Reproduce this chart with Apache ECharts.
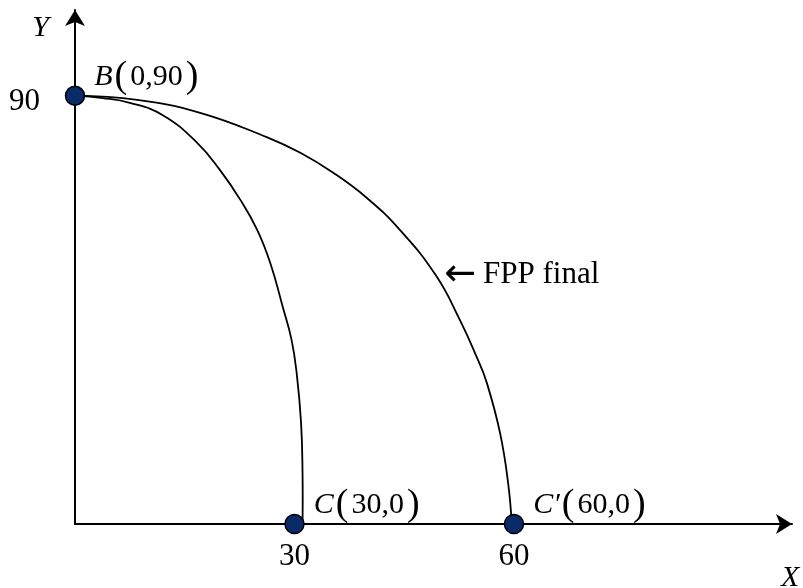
<!DOCTYPE html>
<html>
<head>
<meta charset="utf-8">
<script src="https://cdn.jsdelivr.net/npm/echarts@6/dist/echarts.min.js"></script>
<style>
  html, body { margin: 0; padding: 0; background: #fff; }
  #chart { width: 803px; height: 588px; }
</style>
</head>
<body>
<div id="chart"></div>
<script>
// values
var xTicks = [30, 60]
var yTicks = [90]
var pointNames = ['B', 'C', 'C\u2032']
var pointX = [0, 30, 60]
var pointY = [90, 0, 0]
// initial frontier, B -> C
var smallCurve = [[0, 90], [3.8, 89.5], [7.5, 88.5], [12.0, 85.9], [16.7, 80.1], [19.8, 74.4],
  [22.6, 68.1], [24.9, 61.8], [26.7, 54.8], [28.4, 45.6], [29.6, 38.7], [30.3, 31.7],
  [30.9, 21.2], [31.1, 10.7], [31.1, 0]]
// final frontier, B -> C'
var finalCurve = [[0, 90], [8.5, 89.1], [17.1, 86.4], [26.2, 81.3], [30.8, 78.0], [35.3, 73.8],
  [39.9, 68.5], [44.4, 61.8], [49.3, 52.3], [52.6, 42.9], [54.9, 35.1], [56.3, 29.6],
  [58.1, 19.1], [59.2, 8.6], [59.7, 0]]
var finalLabel = 'FPP final'
var finalLabelIdx = 8

var serif = 'Liberation Serif'
var chart = echarts.init(document.getElementById('chart'))

var pointData = pointX.map(function (x, i) {
  return {name: pointNames[i], value: [x, pointY[i]]}
})

// one smooth polyline per curve, points go through the axes with api.coord
function curveItem(curve) {
  return function (params, api) {
    if (params.dataIndex !== 0) return null
    var pts = curve.map(function (p) { return api.coord(p) })
    return {
      type: 'polyline',
      silent: true,
      shape: {points: pts, smooth: 0.45},
      style: {stroke: '#000', lineWidth: 1.8, fill: null}
    }
  }
}

var option = {
  animation: false,
  backgroundColor: '#fff',
  grid: {left: 75, right: 11, top: 10, bottom: 64, outerBoundsMode: 'none', containLabel: false},
  xAxis: {
    type: 'value',
    min: 0,
    max: 98,
    interval: 30,
    name: 'X',
    nameLocation: 'end',
    nameGap: -11,
    nameTextStyle: {
      fontFamily: serif, fontStyle: 'italic', fontSize: 30, color: '#000',
      verticalAlign: 'top', padding: [39, 0, 0, 0]
    },
    axisLine: {
      lineStyle: {color: '#000', width: 2},
      symbol: ['none', 'arrow'],
      symbolSize: [15, 16]
    },
    axisTick: {show: false},
    splitLine: {show: false},
    axisLabel: {
      margin: 17,
      fontFamily: serif,
      fontSize: 31,
      color: '#000',
      showMaxLabel: false,
      formatter: function (v) { return xTicks.indexOf(v) >= 0 ? String(v) : '' }
    }
  },
  yAxis: {
    type: 'value',
    min: 0,
    max: 108,
    interval: 90,
    name: 'Y',
    nameLocation: 'end',
    nameGap: -18,
    nameTextStyle: {
      fontFamily: serif, fontStyle: 'italic', fontSize: 30, color: '#000',
      align: 'right', verticalAlign: 'middle', padding: [0, 26, 0, 0]
    },
    axisLine: {
      lineStyle: {color: '#000', width: 2},
      symbol: ['none', 'arrow'],
      symbolSize: [15, 16]
    },
    axisTick: {show: false},
    splitLine: {show: false},
    axisLabel: {
      margin: 35,
      verticalAlign: 'top',
      lineHeight: 12,
      fontFamily: serif,
      fontSize: 31,
      color: '#000',
      showMaxLabel: false,
      formatter: function (v) { return yTicks.indexOf(v) >= 0 ? String(v) : '' }
    }
  },
  series: [
    {
      name: 'initial',
      type: 'custom',
      data: smallCurve,
      renderItem: curveItem(smallCurve),
      z: 2
    },
    {
      name: 'final',
      type: 'custom',
      data: finalCurve,
      renderItem: curveItem(finalCurve),
      markPoint: {
        symbol: 'circle',
        symbolSize: 1,
        itemStyle: {color: 'rgba(0,0,0,0)'},
        data: [{
          coord: finalCurve[finalLabelIdx],
          label: {
            show: true,
            position: 'right',
            distance: 8,
            formatter: '{a|\u2190}{t|' + finalLabel + '}',
            rich: {
              a: {fontFamily: 'DejaVu Sans', fontSize: 38, color: '#000', verticalAlign: 'middle', padding: [0, 7, 0, 0]},
              t: {fontFamily: serif, fontSize: 31, color: '#000', verticalAlign: 'middle'}
            }
          }
        }]
      },
      z: 2
    },
    {
      name: 'points',
      type: 'scatter',
      data: pointData,
      symbolSize: 19,
      itemStyle: {color: '#0b2a6a', borderColor: '#000', borderWidth: 1.5, opacity: 1},
      label: {
        show: true,
        position: 'right',
        distance: 9,
        offset: [0, -19],
        color: '#000',
        formatter: function (p) {
          return '{i|' + p.name + '}{p|(}{n|' + p.value[0] + ',' + p.value[1] + '}{p|)}'
        },
        rich: {
          i: {fontFamily: serif, fontStyle: 'italic', fontSize: 30, color: '#000', padding: [0, 2, 0, 0]},
          n: {fontFamily: serif, fontSize: 30, color: '#000', padding: [0, 3, 0, 3]},
          p: {fontFamily: serif, fontSize: 38, color: '#000'}
        }
      },
      z: 5
    }
  ]
}

chart.setOption(option)
</script>
</body>
</html>
